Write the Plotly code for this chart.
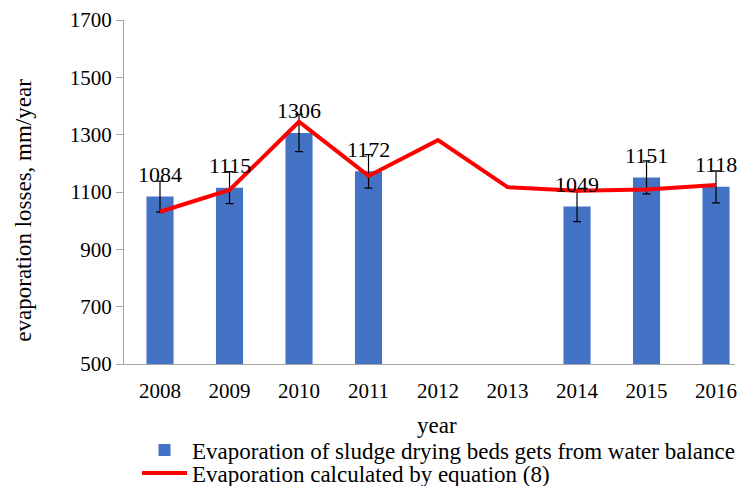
import plotly.graph_objects as go

years = ["2008", "2009", "2010", "2011", "2012", "2013", "2014", "2015", "2016"]
bar_years = ["2008", "2009", "2010", "2011", "2014", "2015", "2016"]
bar_values = [1084, 1115, 1306, 1172, 1049, 1151, 1118]
line_values = [1031, 1107, 1345, 1156, 1281, 1117, 1104, 1109, 1124]
error_percent = 5
y_ticks = [500, 700, 900, 1100, 1300, 1500, 1700]

FONT = "Liberation Serif, Times New Roman, serif"

fig = go.Figure()
fig.add_trace(go.Bar(
    x=bar_years, y=bar_values,
    name="Evaporation of sludge drying beds gets from water balance",
    marker=dict(color="#4472C4", line=dict(width=0)),
    width=0.39,
    error_y=dict(type="percent", value=error_percent, color="black", thickness=1.2, width=4),
    legend="legend",
))
fig.add_trace(go.Scatter(
    x=years, y=line_values, mode="lines",
    name="Evaporation calculated by equation (8)",
    line=dict(color="#FF0000", width=4),
    legend="legend2",
))

for xv, yv in zip(bar_years, bar_values):
    fig.add_annotation(x=years.index(xv), y=yv, xref="x", yref="y", text=str(yv),
                       showarrow=False, yshift=22, xanchor="center", yanchor="middle",
                       font=dict(family=FONT, size=22, color="black"))

fig.add_annotation(xref="paper", yref="paper", x=0.513, y=-0.18, text="year", showarrow=False,
                   xanchor="center", yanchor="middle",
                   font=dict(family=FONT, size=23, color="black"))
fig.add_annotation(xref="paper", yref="paper", x=-0.164, y=0.448, text="evaporation losses, mm/year",
                   showarrow=False, textangle=-90, xanchor="center", yanchor="middle",
                   font=dict(family=FONT, size=23, color="black"))

legend_common = dict(xanchor="left", yanchor="middle", orientation="v",
                     font=dict(family=FONT, size=23, color="black"),
                     itemwidth=45, bgcolor="rgba(0,0,0,0)", borderwidth=0)

fig.update_layout(
    width=744, height=486,
    margin=dict(l=124, r=9, t=20, b=122, autoexpand=False),
    paper_bgcolor="white", plot_bgcolor="white",
    font=dict(family=FONT, size=21, color="black"),
    showlegend=True,
    hovermode=False,
    legend=dict(x=0.0213, y=-0.25, **legend_common),
    legend2=dict(x=0.0213, y=-0.317, **legend_common),
    xaxis=dict(type="category", categoryorder="array", categoryarray=years,
               range=[-0.518, 8.273], showgrid=False, showline=True, linecolor="#A6A6A6",
               linewidth=1.2, ticks="outside", ticklen=8, tickcolor="rgba(0,0,0,0)",
               automargin=False, tickfont=dict(family=FONT, size=21, color="black")),
    yaxis=dict(range=[500, 1700], tickvals=y_ticks, showgrid=False, showline=True,
               linecolor="#A6A6A6", linewidth=1.2, ticks="outside", ticklen=7,
               tickcolor="#A6A6A6", zeroline=False, automargin=False,
               tickfont=dict(family=FONT, size=21, color="black")),
)

fig.write_html("out.html", config={"displayModeBar": False},
               post_script="document.body.style.margin='0px';")
